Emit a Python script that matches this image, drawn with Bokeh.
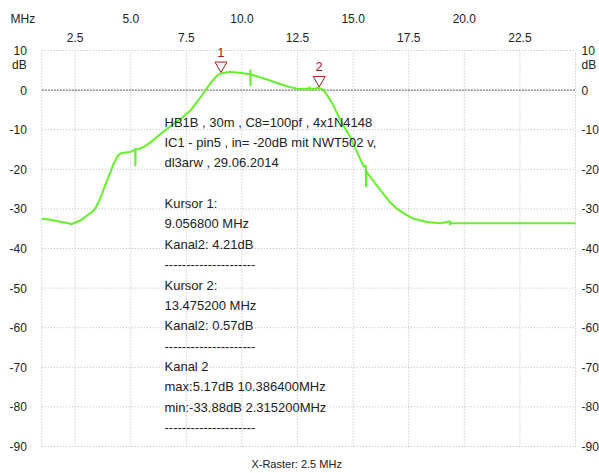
from bokeh.plotting import figure
from bokeh.models import Range1d, Label, ColumnDataSource
from bokeh.embed import file_html
from bokeh.resources import INLINE
from bokeh.core.properties import value

# ---------------- data ----------------
freq_mhz = [1.00, 1.30, 1.60, 1.90, 2.20, 2.315, 2.50, 2.70, 2.87, 3.05, 3.25, 3.41,
            3.55, 3.72, 3.90, 4.09, 4.20, 4.31, 4.42, 4.54, 4.70, 4.85, 4.99, 5.10,
            5.19, 5.20, 5.21, 5.22, 5.35, 5.60, 5.89, 6.34, 6.79, 7.24, 7.69, 8.14,
            8.59, 8.90, 9.0568, 9.44, 9.89, 10.37, 10.38, 10.386, 10.39, 10.78, 11.23,
            11.68, 12.13, 12.58, 13.03, 13.04, 13.05, 13.4752, 13.67, 13.83, 14.06,
            14.43, 14.88, 15.48, 15.57, 15.58, 15.59, 15.78, 16.23, 16.68, 16.98,
            17.35, 17.73, 18.33, 18.93, 19.36, 19.37, 19.38, 20.50, 22.00, 23.50, 25.00]
level_db = [-32.5, -32.7, -33.0, -33.3, -33.6, -33.88, -33.5, -33.0, -32.4, -31.6, -30.8, -29.9,
            -28.3, -26.0, -23.3, -20.7, -19.0, -17.7, -16.6, -16.0, -15.8, -15.7, -15.6, -15.3,
            -15.1, -14.7, -19.2, -15.0, -14.9, -14.3, -13.2, -11.1, -9.1, -7.3, -5.1, -1.8,
            1.8, 3.8, 4.21, 4.6, 4.4, 4.0, 5.17, 1.0, 4.0, 3.3, 2.5,
            1.6, 0.8, 0.25, 0.4, 0.9, 0.1, 0.57, 0.0, -1.3, -3.3,
            -7.6, -12.0, -19.4, -19.0, -24.5, -20.5, -22.0, -25.3, -28.4, -30.0,
            -31.4, -32.5, -33.3, -33.6, -33.1, -34.1, -33.6, -33.6, -33.6, -33.6, -33.6]

marker_ids = ["1", "2"]
marker_freq = [9.0568, 13.4752]
marker_db = [4.21, 0.57]

x_ticks_upper = [5.0, 10.0, 15.0, 20.0]
x_ticks_lower = [2.5, 7.5, 12.5, 17.5, 22.5]
x_grid = [1.0, 2.5, 5.0, 7.5, 10.0, 12.5, 15.0, 17.5, 20.0, 22.5, 25.0]
y_ticks = [10, 0, -10, -20, -30, -40, -50, -60, -70, -80, -90]
y_unit_pos = 6.3
y_unit = "dB"
x_unit = "MHz"
x_raster = "X-Raster: 2.5 MHz"
x_min, x_max = 1.0, 25.0
y_min, y_max = -90, 10

info_lines = [
    "HB1B , 30m , C8=100pf , 4x1N4148",
    "IC1 - pin5 , in= -20dB mit NWT502 v,",
    "dl3arw , 29.06.2014",
    "",
    "Kursor 1:",
    "9.056800 MHz",
    "Kanal2: 4.21dB",
    "---------------------",
    "Kursor 2:",
    "13.475200 MHz",
    "Kanal2: 0.57dB",
    "---------------------",
    "Kanal 2",
    "max:5.17dB 10.386400MHz",
    "min:-33.88dB 2.315200MHz",
    "---------------------",
]

# ---------------- layout / styling ----------------
FONT = "Liberation Sans"
TXT = "#222222"
GREEN = "#66f02c"
RED = "#9e1f1f"
GRID = "#b8b8b8"

W, H = 599, 473
GL, GR, GT, GB = 41.3, 575.0, 50.0, 446.0          # pixel box of the grid area
px_x = (GR - GL) / (x_max - x_min)
px_y = (GB - GT) / (y_max - y_min)
xr = Range1d(x_min - GL / px_x, x_max + (W - GR) / px_x)
yr = Range1d(y_min - (H - GB) / px_y, y_max + GT / px_y)

p = figure(width=W, height=H, x_range=xr, y_range=yr,
           output_backend="svg", toolbar_location=None,
           x_axis_location=None, y_axis_location=None,
           min_border=0, min_border_left=0, min_border_right=0,
           min_border_top=0, min_border_bottom=0)
p.grid.visible = False
p.outline_line_color = None
p.background_fill_color = "white"
p.border_fill_color = "white"

# grid
p.segment(x0=x_grid, y0=[y_min] * len(x_grid), x1=x_grid, y1=[y_max] * len(x_grid),
          line_color=GRID, line_dash="1 2", line_width=1)
hy = [t for t in y_ticks if t != 0]
p.segment(x0=[x_min] * len(hy), y0=hy, x1=[x_max] * len(hy), y1=hy,
          line_color=GRID, line_dash="1 2", line_width=1)
p.segment(x0=[x_min], y0=[0], x1=[x_max], y1=[0], line_color="#555555",
          line_dash="2 1", line_width=1)

# y tick labels (both sides)
ylab = [str(t) for t in y_ticks] + [y_unit]
ypos = list(y_ticks) + [y_unit_pos]
common = dict(text_font=value(FONT), text_font_size="12px", text_color=TXT,
              text_baseline="middle")
p.text(x=[x_min] * len(ypos), y=ypos, text=ylab, x_offset=-15, text_align="right", **common)
p.text(x=[x_max] * len(ypos), y=ypos, text=ylab, x_offset=6, text_align="left", **common)

# x tick labels, two rows above the grid
p.text(x=x_ticks_lower, y=[y_max] * len(x_ticks_lower),
       text=["%.1f" % t for t in x_ticks_lower], y_offset=-13, text_align="center", **common)
p.text(x=x_ticks_upper, y=[y_max] * len(x_ticks_upper),
       text=["%.1f" % t for t in x_ticks_upper], y_offset=-32, text_align="center", **common)
p.text(x=[x_min], y=[y_max], text=[x_unit], x_offset=-19, y_offset=-32,
       text_align="center", **common)
p.text(x=[(x_min + x_max) / 2], y=[y_min], text=[x_raster], x_offset=-12, y_offset=17,
       text_align="center", text_font=value(FONT), text_font_size="11px",
       text_color=TXT, text_baseline="middle")

# curve
src = ColumnDataSource(data=dict(freq=freq_mhz, level=level_db))
p.line("freq", "level", source=src, line_color=GREEN, line_width=2)

# cursors
tri_size = 12
tri_center_px = tri_size * 0.577 + 1.0
msrc = ColumnDataSource(data=dict(freq=marker_freq,
                                  tri=[d + tri_center_px / px_y for d in marker_db],
                                  level=marker_db, ids=marker_ids))
p.scatter("freq", "tri", source=msrc, marker="inverted_triangle", size=tri_size,
          fill_color=None, line_color=RED, line_width=1)
p.text("freq", "level", text="ids", source=msrc, y_offset=-21, text_align="center",
       text_baseline="middle", text_color=RED, text_font=value(FONT), text_font_size="13px")

# info text block
for i, line in enumerate(info_lines):
    if not line:
        continue
    p.add_layout(Label(x=164, y=H - (121.7 + 20.35 * i), x_units="screen", y_units="screen",
                       text=line, text_font=FONT, text_font_size="13px", text_color=TXT,
                       text_baseline="middle", text_align="left"))

open("out.html", "w").write(file_html(p, INLINE))
